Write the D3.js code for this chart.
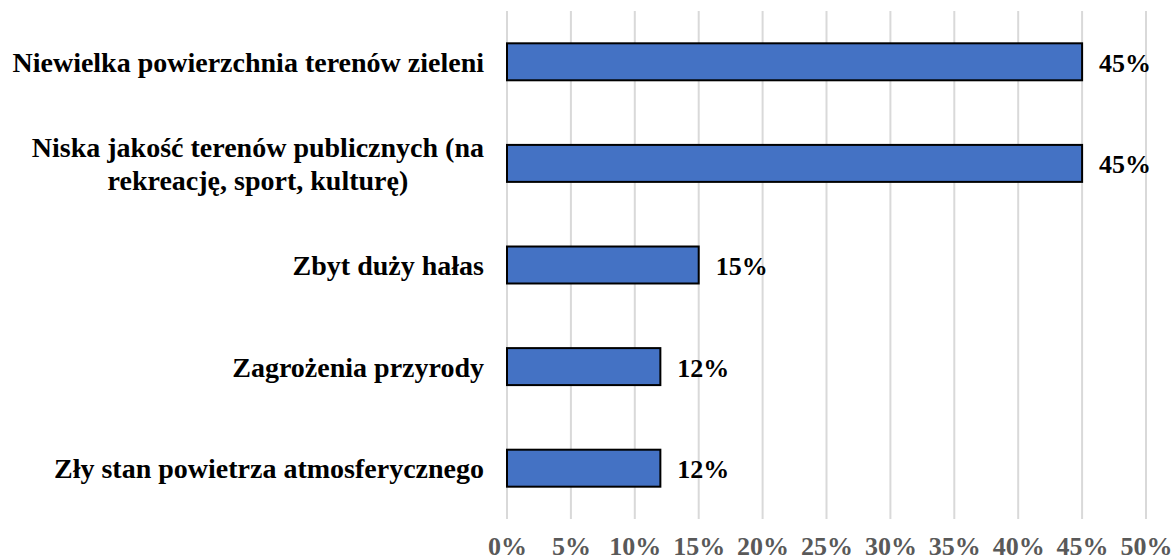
<!DOCTYPE html>
<html>
<head>
<meta charset="utf-8">
<script src="https://cdn.jsdelivr.net/npm/d3@7"></script>
<style>
  body { margin: 0; background: #fff; }
  svg text { font-family: "Liberation Serif", "Times New Roman", serif; font-weight: bold; }
</style>
</head>
<body>
<div id="chart"></div>
<script>
// chart data
const categories = [
    ['Niewielka powierzchnia terenów zieleni'],
    ['Niska jakość terenów publicznych (na', 'rekreację, sport, kulturę)'],
    ['Zbyt duży hałas'],
    ['Zagrożenia przyrody'],
    ['Zły stan powietrza atmosferycznego']
];
const values = [45, 45, 15, 12, 12];
const tickValues = [0, 5, 10, 15, 20, 25, 30, 35, 40, 45, 50];

const width = 1175, height = 560;
const margin = { top: 11, right: 29, bottom: 41, left: 507 };

const svg = d3.select('#chart')
    .append('svg')
    .attr('width', width)
    .attr('height', height);

const g = svg.append('g')
    .attr('transform', `translate(${margin.left},${margin.top})`);

const innerW = width - margin.left - margin.right;
const innerH = height - margin.top - margin.bottom;

const xScale = d3.scaleLinear().domain([0, 50]).range([0, innerW]);
const yScale = d3.scaleBand()
    .domain(d3.range(categories.length))
    .range([0, innerH])
    .paddingInner(0.636)
    .paddingOuter(0.318);

// gridlines
g.selectAll('.grid')
    .data(tickValues)
    .enter().append('line')
    .attr('class', 'grid')
    .attr('x1', d => xScale(d))
    .attr('x2', d => xScale(d))
    .attr('y1', 0)
    .attr('y2', innerH)
    .attr('stroke', '#d9d9d9')
    .attr('stroke-width', 2);

// x axis labels
const xAxis = g.append('g')
    .attr('transform', `translate(0,${innerH})`)
    .call(d3.axisBottom(xScale).tickValues(tickValues).tickSize(0).tickPadding(36).tickFormat(d => d + '%'));
xAxis.select('.domain').remove();
xAxis.selectAll('text')
    .attr('dy', 0)
    .attr('font-size', 26)
    .attr('fill', '#595959');

// bars
g.selectAll('.bar')
    .data(values)
    .enter().append('rect')
    .attr('class', 'bar')
    .attr('x', 0)
    .attr('y', (d, i) => yScale(i))
    .attr('width', d => xScale(d))
    .attr('height', yScale.bandwidth())
    .attr('fill', '#4472c4')
    .attr('stroke', '#000')
    .attr('stroke-width', 2);

// value labels
g.selectAll('.value')
    .data(values)
    .enter().append('text')
    .attr('class', 'value')
    .attr('x', d => xScale(d) + 17)
    .attr('y', (d, i) => yScale(i) + yScale.bandwidth() / 2 + 10)
    .attr('font-size', 26)
    .attr('fill', '#000')
    .text(d => d + '%');

// category labels, wrapped lines centred like Excel does
const labelRight = -23;
const lineH = 33;
categories.forEach((lines, i) => {
    const cy = yScale(i) + yScale.bandwidth() / 2;
    const t = g.append('text')
        .attr('font-size', 28)
        .attr('fill', '#000');
    const spans = lines.map((s, k) => t.append('tspan')
        .attr('y', cy + 10 + (k - (lines.length - 1) / 2) * lineH)
        .text(s));
    const maxW = d3.max(spans, s => s.node().getComputedTextLength());
    spans.forEach(s => s.attr('x', labelRight - maxW / 2).attr('text-anchor', 'middle'));
});
</script>
</body>
</html>
